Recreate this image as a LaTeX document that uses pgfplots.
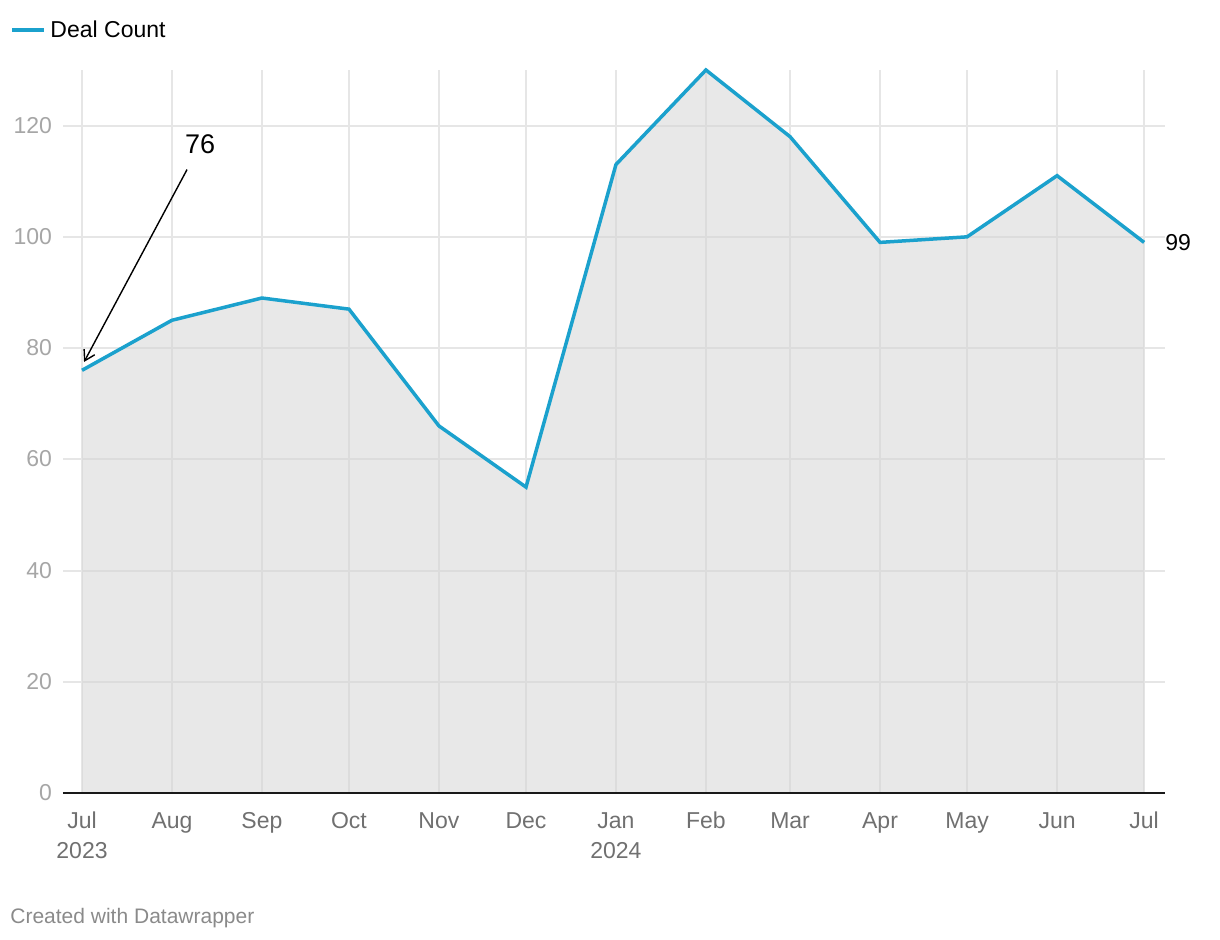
\documentclass[border=0pt]{standalone}
\usepackage{fontspec}
\setmainfont{Liberation Sans}
\usepackage{pgfplots}
\pgfplotsset{compat=1.18}
\usetikzlibrary{arrows.meta}
\definecolor{linec}{HTML}{1BA1CD}
\definecolor{gridc}{HTML}{E6E6E6}
\definecolor{fillc}{HTML}{D3D3D3}
\definecolor{ytc}{HTML}{A6A6A6}
\definecolor{xtc}{HTML}{707070}
\definecolor{footc}{HTML}{8A8A8A}
\begin{document}
\begin{tikzpicture}
\begin{axis}[
  scale only axis, width=551pt, height=361.5pt,
  xmin=-6.55, xmax=373.2, ymin=0, ymax=130,
  axis line style={draw=none},
  major tick length=0pt,
  xtick={0,31,62,92,123,153,184,215,244,275,305,336,366},
  xticklabels={{Jul\\2023},Aug,Sep,Oct,Nov,Dec,{Jan\\2024},Feb,Mar,Apr,May,Jun,Jul},
  ytick={0,20,40,60,80,100,120},
  grid=major, major grid style={color=gridc, line width=1pt},
  /pgf/number format/assume math mode=true,
  typeset ticklabels with strut,
  tick label style={font=\fontsize{11.5}{15}\selectfont},
  yticklabel style={color=ytc, xshift=-2pt, yshift=-0.8pt},
  xticklabel style={color=xtc, align=center, yshift=-3.5pt},
  clip=false,
  legend style={at={(axis description cs:-0.048,1.055)}, anchor=west, draw=none, fill=none, inner sep=0pt,
    font=\fontsize{11.5}{14}\selectfont, legend cell align=left},
  legend image code/.code={\draw[linec, line width=2pt] (0pt,0pt) -- (16pt,0pt);},
]
\addplot[draw=none, fill=fillc, fill opacity=0.52, forget plot] coordinates {
(0,76) (31,85) (62,89) (92,87) (123,66) (153,55) (184,113) (215,130) (244,118) (275,99) (305,100) (336,111) (366,99)
} \closedcycle;
\addplot[linec, line width=1.75pt, line join=miter] coordinates {
(0,76) (31,85) (62,89) (92,87) (123,66) (153,55) (184,113) (215,130) (244,118) (275,99) (305,100) (336,111) (366,99)
};
\addlegendentry{Deal Count}
\draw[black!90, line width=1pt] (rel axis cs:0,0) -- (rel axis cs:1,0);
\draw[black, line width=0.7pt, -{Straight Barb[length=5pt,width=6pt]}] (axis cs:36.2,112.1) -- (axis cs:0.7,77.5);
\node[font=\fontsize{13.5}{16}\selectfont] at (axis cs:40.7,116.6) {76};
\node[anchor=west, inner sep=0pt, font=\fontsize{11.5}{14}\selectfont] at (axis cs:373.2,99) {\hspace{0pt}99};
\node[anchor=west, inner sep=0pt, font=\fontsize{10.5}{12}\selectfont, color=footc] at ([xshift=-26.5pt, yshift=-62.5pt]rel axis cs:0,0) {Created with Datawrapper};
\path ([xshift=-31.5pt,yshift=-73.5pt]rel axis cs:0,0) rectangle ([xshift=27.5pt,yshift=35pt]rel axis cs:1,1);
\end{axis}
\end{tikzpicture}
\end{document}
